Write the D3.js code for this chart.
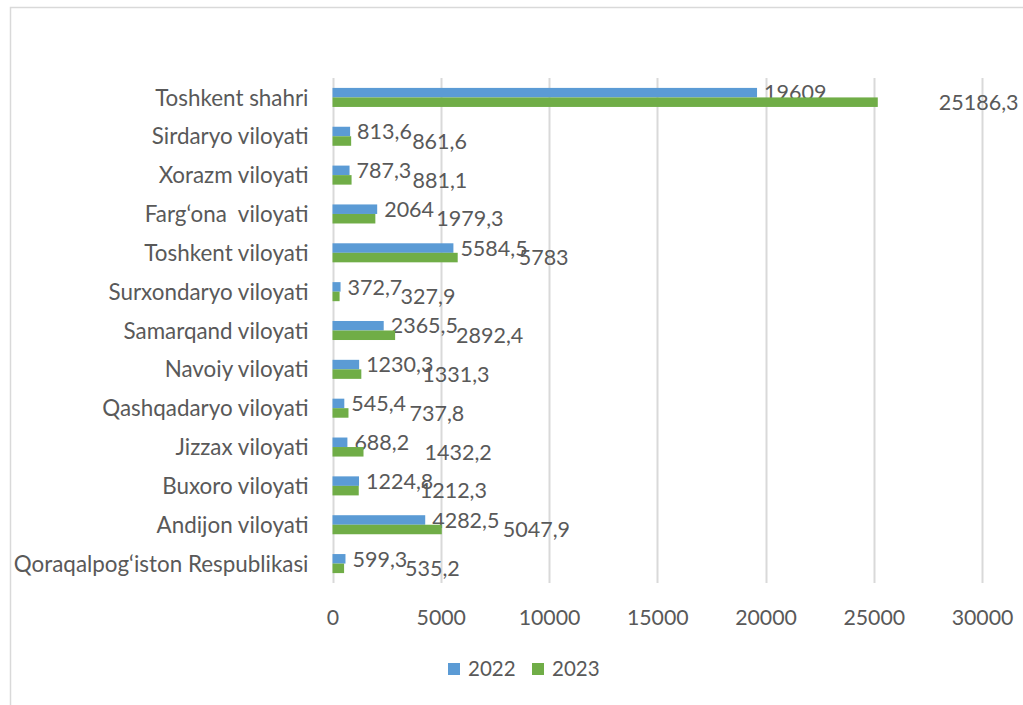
<!DOCTYPE html>
<html>
<head>
<meta charset="utf-8">
<script src="https://cdn.jsdelivr.net/npm/d3@7/dist/d3.min.js"></script>
<style>
  html, body { margin: 0; padding: 0; background: #fff; }
  svg text { font-family: Lato, "Open Sans", sans-serif; fill: #595959; white-space: pre; }
</style>
</head>
<body>
<svg id="chart" width="1023" height="705"></svg>
<script>
const categories = [
  "Toshkent shahri",
  "Sirdaryo viloyati",
  "Xorazm viloyati",
  "Farg‘ona  viloyati",
  "Toshkent viloyati",
  "Surxondaryo viloyati",
  "Samarqand viloyati",
  "Navoiy viloyati",
  "Qashqadaryo viloyati",
  "Jizzax viloyati",
  "Buxoro viloyati",
  "Andijon viloyati",
  "Qoraqalpog‘iston Respublikasi"
];
const values2022 = [19609, 813.6, 787.3, 2064, 5584.5, 372.7, 2365.5, 1230.3, 545.4, 688.2, 1224.8, 4282.5, 599.3];
const values2023 = [25186.3, 861.6, 881.1, 1979.3, 5783, 327.9, 2892.4, 1331.3, 737.8, 1432.2, 1212.3, 5047.9, 535.2];
const seriesNames = ["2022", "2023"];
const tickValues = [0, 5000, 10000, 15000, 20000, 25000, 30000];

const colors = ["#5B9BD5", "#70AD47"];
const svg = d3.select("#chart");

// chart border
svg.append("rect")
  .attr("x", 10.5).attr("y", 7.5)
  .attr("width", 1040).attr("height", 740)
  .attr("fill", "none").attr("stroke", "#d9d9d9").attr("stroke-width", 1.5);

const plot = { left: 332.5, right: 982, top: 78, bottom: 583 };

const x = d3.scaleLinear().domain([0, 30000]).range([plot.left, plot.right]);
const y = d3.scaleBand().domain(categories).range([plot.top, plot.bottom]).paddingInner(0.51).paddingOuter(0.255);
const ySub = d3.scaleBand().domain(seriesNames).range([0, y.bandwidth()]);

// gridlines
svg.append("g").selectAll("line").data(tickValues).join("line")
  .attr("x1", d => Math.round(x(d)) + 0.5).attr("x2", d => Math.round(x(d)) + 0.5)
  .attr("y1", plot.top).attr("y2", plot.bottom)
  .attr("stroke", "#d9d9d9").attr("stroke-width", 2);

// x tick labels
const xAxis = d3.axisBottom(x).tickValues(tickValues).tickSize(0).tickPadding(0).tickFormat(d3.format("d"));
const gx = svg.append("g").attr("transform", `translate(0,${plot.bottom})`).call(xAxis);
gx.select(".domain").remove();
gx.selectAll("text").attr("dy", "0.36em").attr("y", 34).style("font-size", "21.3px").style("fill", "#595959");

// y category labels
const yAxis = d3.axisLeft(y).tickSize(0).tickPadding(24);
const gy = svg.append("g").attr("transform", `translate(${plot.left},0)`).call(yAxis);
gy.select(".domain").remove();
gy.selectAll("text").style("font-size", "22.4px").attr("dy", "0.36em").style("fill", "#595959");

const series = [values2022, values2023];
const labelGap = [7, 61];

series.forEach((vals, si) => {
  const g = svg.append("g");
  g.selectAll("rect").data(vals).join("rect")
    .attr("x", x(0))
    .attr("y", (d, i) => y(categories[i]) + ySub(seriesNames[si]))
    .attr("width", d => x(d) - x(0))
    .attr("height", ySub.bandwidth())
    .attr("fill", colors[si]);
  g.selectAll("text").data(vals).join("text")
    .attr("x", d => x(d) + labelGap[si])
    .attr("y", (d, i) => y(categories[i]) + ySub(seriesNames[si]) + ySub.bandwidth() / 2)
    .attr("dy", "0.36em")
    .style("font-size", "21.5px")
    .text(d => String(d).replace(".", ","));
});

// legend
const legend = svg.append("g").attr("transform", "translate(448,663)");
const legendX = [0, 84];
seriesNames.forEach((s, i) => {
  legend.append("rect").attr("x", legendX[i]).attr("y", 0).attr("width", 12).attr("height", 12).attr("fill", colors[i]);
  legend.append("text").attr("x", legendX[i] + 20).attr("y", 6).attr("dy", "0.36em")
    .style("font-size", "20.5px").text(s);
});
</script>
</body>
</html>
